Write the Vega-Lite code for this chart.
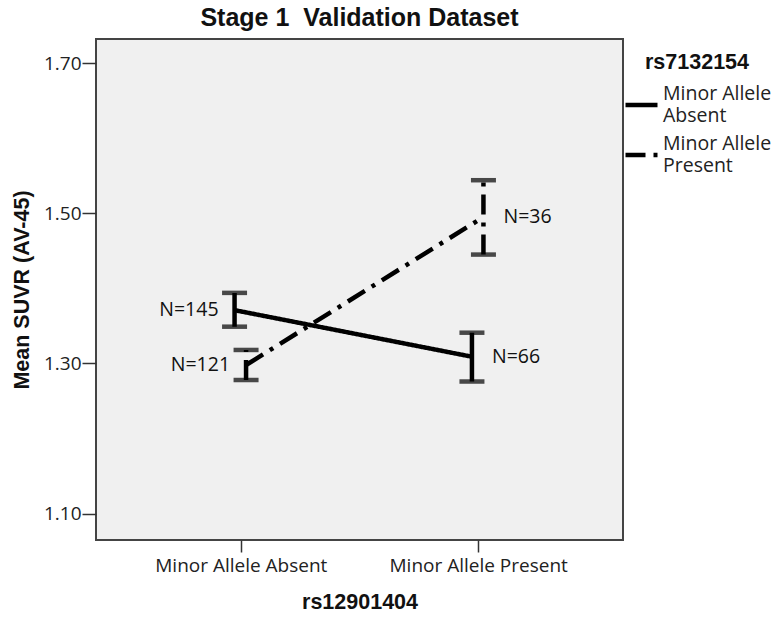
{
  "$schema": "https://vega.github.io/schema/vega-lite/v6.json",
  "autosize": {"type": "none"},
  "padding": {"left": 96, "top": 39, "right": 150, "bottom": 78},
  "width": 527,
  "height": 501,
  "background": "white",
  "title": {
    "text": "Stage 1\u00a0 Validation Dataset",
    "font": "Liberation Sans",
    "fontSize": 25,
    "fontWeight": "bold",
    "color": "#111",
    "anchor": "middle",
    "frame": "group",
    "offset": 8
  },
  "config": {
    "view": {"stroke": "#444", "strokeWidth": 2, "fill": "#f0f0f0"},
    "axis": {
      "grid": false,
      "domain": false,
      "tickColor": "#333",
      "tickWidth": 1.5,
      "labelFont": "Open Sans",
      "labelFontSize": 19,
      "labelColor": "#222",
      "titleFont": "Liberation Sans",
      "titleFontSize": 21.5,
      "titleFontWeight": "bold",
      "titleColor": "#111"
    }
  },
  "data": {
    "values": [
      {"rs12901404": "Minor Allele Absent", "rs7132154": "Minor Allele Absent", "mean": 1.371, "lo": 1.349, "hi": 1.394, "label": "N=145"},
      {"rs12901404": "Minor Allele Absent", "rs7132154": "Minor Allele Present", "mean": 1.298, "lo": 1.278, "hi": 1.318, "label": "N=121"},
      {"rs12901404": "Minor Allele Present", "rs7132154": "Minor Allele Absent", "mean": 1.309, "lo": 1.276, "hi": 1.341, "label": "N=66"},
      {"rs12901404": "Minor Allele Present", "rs7132154": "Minor Allele Present", "mean": 1.495, "lo": 1.445, "hi": 1.544, "label": "N=36"}
    ]
  },
  "encoding": {
    "x": {
      "field": "rs12901404",
      "type": "nominal",
      "scale": {"type": "point", "padding": 0.61},
      "axis": {"title": "rs12901404", "labelAngle": 0, "tickSize": 12, "labelPadding": 4, "titlePadding": 16}
    },
    "xOffset": {
      "field": "rs7132154",
      "type": "nominal",
      "scale": {"domain": ["Minor Allele Absent", "Minor Allele Present"], "range": [-12, 11]}
    }
  },
  "layer": [
    {
      "mark": {"type": "line", "color": "#000", "strokeWidth": 4.5},
      "encoding": {
        "y": {
          "field": "mean",
          "type": "quantitative",
          "scale": {"domain": [1.065, 1.732], "nice": false, "zero": false},
          "axis": {"title": "Mean SUVR (AV-45)", "values": [1.1, 1.3, 1.5, 1.7], "format": ".2f", "tickSize": 14, "labelPadding": 1, "titlePadding": 10}
        },
        "strokeDash": {
          "field": "rs7132154",
          "type": "nominal",
          "scale": {"domain": ["Minor Allele Absent", "Minor Allele Present"], "range": [[1, 0], [20, 8, 4, 8]]},
          "legend": {
            "orient": "none",
            "legendX": 527,
            "legendY": 13,
            "padding": 0,
            "title": "rs7132154",
            "titleFont": "Liberation Sans",
            "titleFontSize": 21.5,
            "titleFontWeight": "bold",
            "titleColor": "#111",
            "titleAnchor": "middle",
            "titlePadding": 13,
            "labelFont": "Open Sans",
            "labelFontSize": 19.5,
            "labelColor": "#222",
            "labelOffset": 3,
            "labelLimit": 200,
            "labelExpr": "[slice(datum.label, 0, 12), slice(datum.label, 13)]",
            "symbolType": "stroke",
            "symbolSize": 1024,
            "symbolStrokeWidth": 4.5,
            "symbolStrokeColor": "#000",
            "rowPadding": 8,
            "encode": {"labels": {"update": {"dy": {"value": -11}}}}
          }
        }
      }
    },
    {
      "mark": {"type": "rule", "color": "#000", "strokeWidth": 4.5},
      "encoding": {
        "y": {"field": "lo", "type": "quantitative"},
        "y2": {"field": "hi"},
        "strokeDash": {"field": "rs7132154", "type": "nominal", "legend": null}
      }
    },
    {
      "mark": {"type": "tick", "color": "#000", "thickness": 4.5, "size": 25, "orient": "horizontal"},
      "encoding": {"y": {"field": "lo", "type": "quantitative"}}
    },
    {
      "mark": {"type": "tick", "color": "#000", "thickness": 4.5, "size": 25, "orient": "horizontal"},
      "encoding": {"y": {"field": "hi", "type": "quantitative"}}
    },
    {
      "transform": [{"filter": "datum.rs12901404 == 'Minor Allele Absent'"}],
      "mark": {"type": "text", "align": "right", "baseline": "middle", "dx": -16, "font": "Open Sans", "fontSize": 19.5, "color": "#111"},
      "encoding": {"y": {"field": "mean", "type": "quantitative"}, "text": {"field": "label"}}
    },
    {
      "transform": [{"filter": "datum.rs12901404 == 'Minor Allele Present'"}],
      "mark": {"type": "text", "align": "left", "baseline": "middle", "dx": 20, "font": "Open Sans", "fontSize": 19.5, "color": "#111"},
      "encoding": {"y": {"field": "mean", "type": "quantitative"}, "text": {"field": "label"}}
    }
  ]
}
